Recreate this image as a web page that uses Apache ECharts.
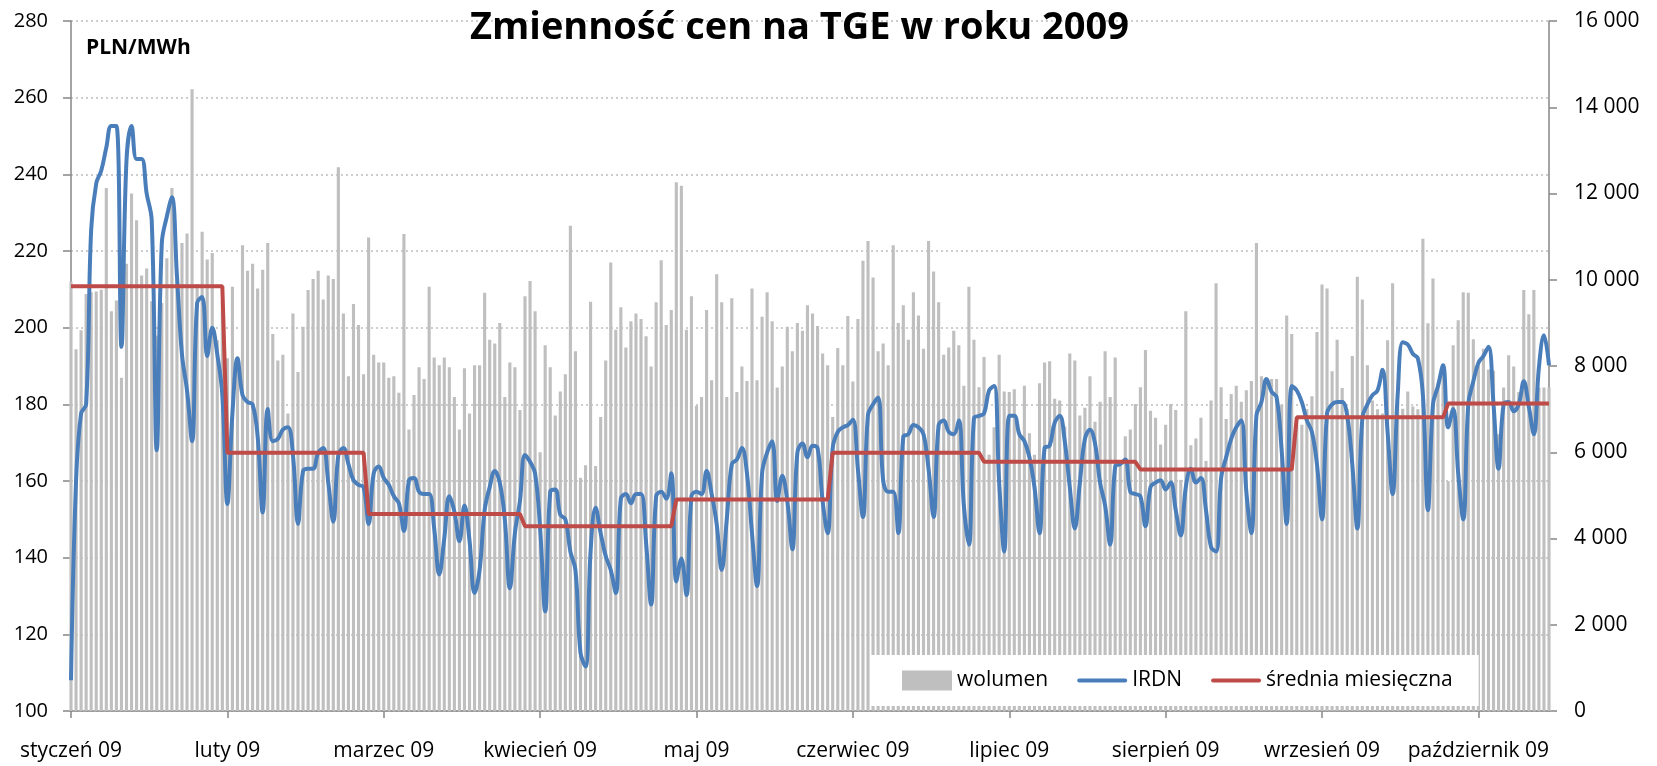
<!DOCTYPE html>
<html>
<head>
<meta charset="utf-8">
<script src="https://cdn.jsdelivr.net/npm/echarts@6/dist/echarts.min.js"></script>
<style>
  html, body { margin: 0; padding: 0; background: #fff; }
  #chart { width: 1657px; height: 766px; }
</style>
</head>
<body>
<div id="chart"></div>
<script>
// wolumen dzienny (MWh), 1 stycznia - 21 października 2009
const wolumen = [
  9960, 8390, 8830, 9670, 9710, 9730, 9770, 12130, 9270, 9520, 7730, 10370, 12000, 11380, 10100, 10260,
  9500, 8700, 9460, 10500, 12130, 10000, 10850, 11070, 14420, 9900, 11115, 10470, 10620, 8600, 9500,
  8180, 9840, 8200, 10800, 10210, 10370, 9800, 10230, 10850, 8740, 8130, 8260, 6900, 9220, 7860, 8910,
  9760, 10020, 10210, 9540, 10100, 10020, 12610, 9220, 7760, 9440, 8950, 7810,
  10980, 8260, 8080, 8080, 7730, 7760, 7380, 11060, 6530, 7330, 7970, 7700, 9840, 8200, 8020, 8200,
  7970, 7280, 6530, 7950, 6900, 8020, 8020, 9700, 8610, 8520, 9000, 7280, 8080, 7970, 6980,
  9620, 9970, 9270, 6000, 8480, 7970, 6850, 7410, 7810, 11250, 8340, 5410, 5700, 9490, 5680,
  6820, 8130, 10400, 8840, 9360, 8430, 9040, 9220, 9090, 8690, 7990, 9480, 10450, 8950, 9300,
  12260, 12180, 8840, 9620, 7080, 7280, 9300, 7670, 10130, 9480, 7280, 9570, 7400, 7990, 7650, 9800,
  7670, 9140, 9710, 9040, 7500, 7990, 8910, 8340, 9000, 8820, 9410, 9220, 8930, 8290, 8020,
  6820, 8420, 8020, 9160, 7640, 9090, 10440, 10900, 10050, 8340, 8520, 8020, 10800, 9000, 9410,
  8610, 9710, 9170, 8400, 10900, 10190, 9480, 8260, 8430, 8820, 8480, 7540, 9840, 8610, 7510,
  8210, 5940, 6580, 8260, 7410, 7400, 7460, 6470, 7540, 6440, 5940, 7600, 8080, 8110, 7240, 7200,
  6600, 8290, 8130, 6850, 7030, 7760, 6710, 7170, 8340, 7280, 8200, 5780, 6370, 6530, 7120,
  7510, 8370, 6960, 6800, 6180, 6640, 7120, 6980, 5360, 9270, 6160, 6320, 6800, 5800, 7200, 9920,
  7510, 6770, 7350, 7540, 7170, 7440, 7650, 10850, 7760, 7700, 7700, 7700, 7100, 9170, 8740,
  6640, 6640, 7000, 7300, 8790, 9890, 9800, 7880, 8610, 7490, 7000, 8230, 10070, 9540, 8020,
  7200, 7000, 6900, 8600, 9920, 7170, 7010, 7410, 7060, 7000, 10950, 8990, 10030, 7600, 7900,
  5330, 8480, 9060, 9710, 9700, 8620, 8000, 8400, 7920, 7890, 6420, 7500, 8250, 7990, 7400,
  9760, 9200, 9760, 7500, 7500, 7500
];

// IRDN (PLN/MWh)
const irdn = [
  108, 160, 177.6, 180, 225.6, 237.6, 241, 247, 252.6, 252.6, 195, 243.6, 252.6, 244, 244, 235,
  228, 168, 222, 229, 234, 213.6, 193, 183.6, 170.4, 206.4, 208, 192.6, 200, 193, 182.4,
  154, 177.6, 192, 182.4, 180.6, 180, 171.6, 151.8, 178.8, 170.4, 171, 173.4, 174, 166.8, 148.8,
  162.6, 163.2, 163.2, 167.4, 168.6, 159.6, 149.4, 166.8, 168.6, 164.4, 160.2, 159, 158.4,
  148.8, 162, 163.8, 160.8, 159, 156, 154.2, 147, 160.2, 160.8, 157.2, 156.6, 156.6, 147.6, 135.6,
  145, 156, 152, 144.3, 153.6, 144.5, 130.8, 136.8, 152.4, 158.4, 162.6, 159.6, 150, 132, 146.4, 154.8,
  166.8, 165, 162, 147.6, 126, 157.2, 157.8, 151.2, 150, 141.6, 136.8, 115.2, 111.6, 141.6, 153,
  146.4, 140.4, 136.8, 130.8, 155.4, 156.6, 154.2, 156.6, 156.6, 144, 127.8, 156, 157.2, 155.4, 162,
  133.8, 139.8, 130.2, 156, 157.2, 156.6, 162.6, 156.6, 148.8, 136.8, 150, 164.4, 165.6, 168.6, 162,
  146.4, 132.6, 162, 167.4, 170.4, 154.8, 161.4, 154.8, 142.2, 167.4, 169.8, 166.2, 169.2, 168.6,
  154.8, 146.4,
  168.6, 172.8, 174, 174.6, 176, 163, 150.6, 177.3, 180, 181.8, 160.2, 157.2, 157.2, 146.4, 171.6,
  172.2, 174.6, 174, 172.2, 163.2, 150.6, 174.6, 175.8, 172.8, 172.2, 175.8, 153.6, 143.4, 176.4, 177,
  177.6, 183.6, 184.8, 159.6, 141.6, 177, 177, 172.2, 170.4, 166.2, 158.4, 146.4, 168.6, 169.2, 175.2,
  177, 170.4, 158.4, 147.6, 159.6, 171, 173.4, 169.8, 159.6, 153.6, 143.4, 163.8, 164.4, 165.6, 157.2,
  156.6,
  156, 148.2, 158.4, 159.6, 160.2, 157.8, 159.6, 152.4, 145.8, 158.4, 163.2, 159.6, 160.8, 152.4, 142.8,
  141.6, 160.8, 166.2, 171, 174, 175.8, 157.2, 146.4, 177, 180.6, 186.6, 183.3, 181.8, 168, 148.8, 184.8,
  183.6, 180.6, 175.8, 172.8, 164.4, 150, 177.6, 180, 180.6, 180.6, 177, 164.4, 147.6, 176.4, 180,
  182.4, 183.6, 189, 172.8, 156.6, 182.4, 196.2, 195.6, 193.2, 192, 182.4, 152.4, 180, 184.8, 190.2,
  174, 178.8, 162, 150, 180, 186, 190.8, 192.6, 195, 180, 163.2, 180, 180.6, 178.2, 180, 186, 179.4,
  172.2, 189.6, 198, 190.2
];

// średnia miesięczna IRDN i liczba dni w każdym miesiącu na wykresie
const sredniaMies = [210.8, 167.4, 151.4, 148.2, 155.2, 167.4, 165.0, 163.0, 176.6, 180.2];
const dniMies = [31, 28, 31, 30, 31, 30, 31, 31, 30, 21];
const miesiace = ['styczeń', 'luty', 'marzec', 'kwiecień', 'maj', 'czerwiec',
  'lipiec', 'sierpień', 'wrzesień', 'październik'];

// kategorie = kolejne dni
const dni = [];
const srednia = [];
dniMies.forEach(function (n, m) {
  for (let d = 1; d <= n; d++) {
    dni.push('2009-' + String(m + 1).padStart(2, '0') + '-' + String(d).padStart(2, '0'));
    srednia.push(sredniaMies[m]);
  }
});

// ikona linii w legendzie (pasek 50x4 w ramce 50x20)
const ikonaLinii = 'path://M0,0L0.01,0M2,8L48,8A2,2,0,0,1,48,12L2,12A2,2,0,0,1,2,8ZM50,20L50,19.99';

const font = 'Open Sans';
const chart = echarts.init(document.getElementById('chart'));
chart.setOption({
  animation: false,
  textStyle: { fontFamily: font },
  title: {
    text: 'Zmienność cen na TGE w roku 2009',
    left: 470,
    top: 9,
    padding: 0,
    textStyle: { fontSize: 38, fontWeight: 'bold', color: '#000', fontFamily: font }
  },
  graphic: [{
    type: 'text',
    left: 86,
    top: 38,
    style: { text: 'PLN/MWh', font: 'bold 21px "Open Sans"', fill: '#000' }
  }],
  legend: {
    left: 870,
    top: 655,
    padding: [15, 26, 15, 32],
    backgroundColor: '#fff',
    itemWidth: 50,
    itemHeight: 20,
    itemGap: 29,
    textStyle: { fontSize: 21, color: '#000', fontFamily: font },
    data: [
      { name: 'wolumen', icon: 'rect' },
      { name: 'IRDN', icon: ikonaLinii },
      { name: 'średnia miesięczna', icon: ikonaLinii }
    ]
  },
  grid: { left: 71, right: 108, top: 21, bottom: 55 },
  xAxis: {
    type: 'category',
    data: dni,
    boundaryGap: false,
    axisLine: { lineStyle: { color: '#868686', width: 1.5 } },
    axisTick: { interval: 30, length: 7, lineStyle: { color: '#868686', width: 1.5 } },
    axisLabel: {
      interval: 30,
      margin: 30,
      fontSize: 21,
      color: '#000',
      formatter: function (v) {
        return miesiace[parseInt(v.slice(5, 7), 10) - 1] + ' 09';
      }
    },
    splitLine: { show: false }
  },
  yAxis: [{
    type: 'value',
    min: 100,
    max: 280,
    interval: 20,
    axisLine: { show: true, lineStyle: { color: '#868686', width: 1.5 } },
    axisTick: { show: true, length: 8, lineStyle: { color: '#868686', width: 1.5 } },
    axisLabel: { fontSize: 20, color: '#000', margin: 23 },
    splitLine: { lineStyle: { color: '#bdbdbd', type: [2, 3], width: 1.5 } }
  }, {
    type: 'value',
    min: 0,
    max: 16000,
    interval: 2000,
    position: 'right',
    axisLine: { show: true, lineStyle: { color: '#868686', width: 1.5 } },
    axisTick: { show: true, length: 8, lineStyle: { color: '#868686', width: 1.5 } },
    axisLabel: {
      fontSize: 21,
      color: '#000',
      margin: 25,
      formatter: function (v) {
        return String(v).replace(/\B(?=(\d{3})+(?!\d))/g, ' ');
      }
    },
    splitLine: { show: false }
  }],
  series: [{
    name: 'wolumen',
    type: 'bar',
    yAxisIndex: 1,
    data: wolumen,
    barWidth: '62%',
    itemStyle: { color: '#bfbfbf' }
  }, {
    name: 'IRDN',
    type: 'line',
    data: irdn,
    smooth: 0.4,
    showSymbol: false,
    symbol: 'none',
    lineStyle: { color: '#4a7ebb', width: 4 },
    itemStyle: { color: '#4a7ebb' }
  }, {
    name: 'średnia miesięczna',
    type: 'line',
    data: srednia,
    showSymbol: false,
    symbol: 'none',
    lineStyle: { color: '#be4b48', width: 4 },
    itemStyle: { color: '#be4b48' }
  }]
});
</script>
</body>
</html>
